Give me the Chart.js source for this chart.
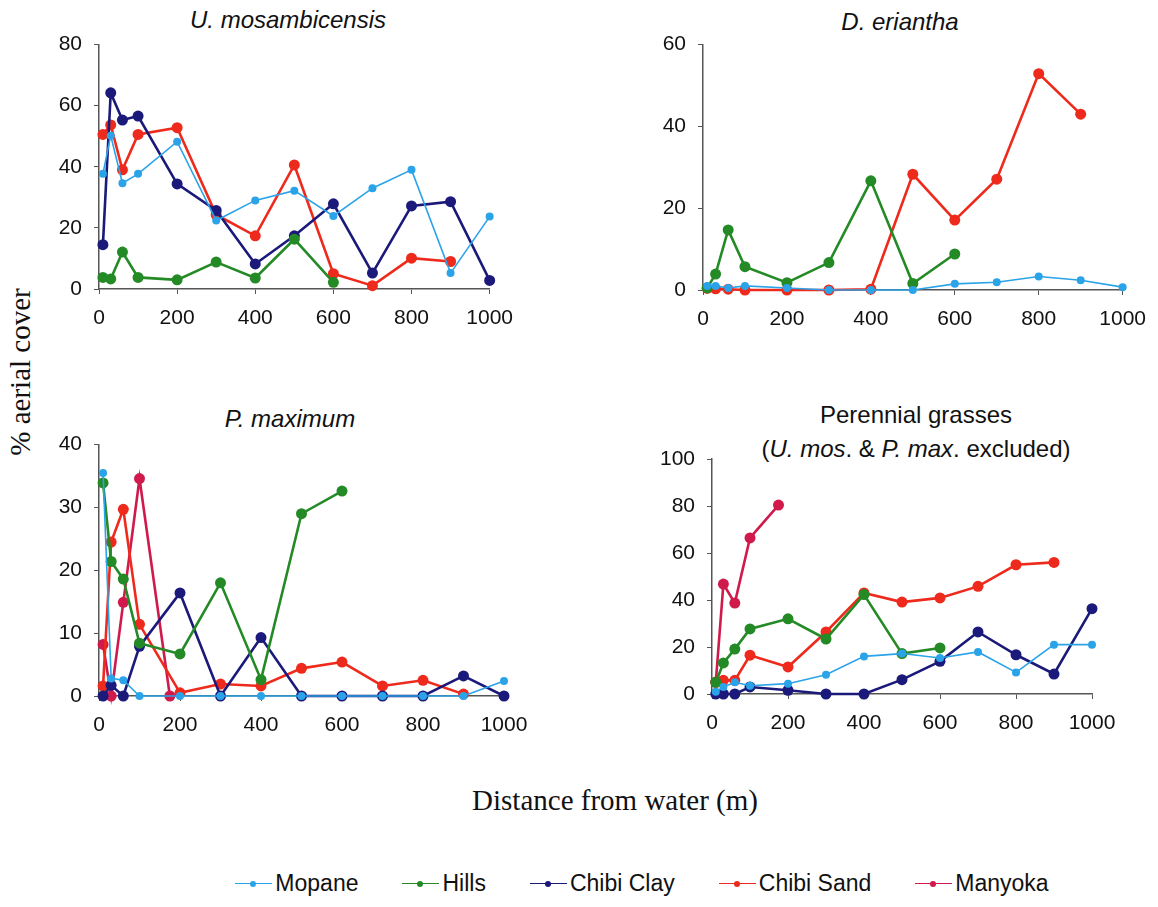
<!DOCTYPE html>
<html>
<head>
<meta charset="utf-8">
<script src="https://cdn.jsdelivr.net/npm/chart.js@4.4.1/dist/chart.umd.min.js"></script>
<style>
  body { margin: 0; background: #fff; width: 1158px; height: 907px; position: relative; overflow: hidden;
         font-family: 'Liberation Sans', Arial, sans-serif; color: #111; }
  .box { position: absolute; }
  .ttl { position: absolute; font-size: 24px; font-style: italic; text-align: center; white-space: nowrap;
         transform: translate(-50%, -50%); }
  .ttl.up { font-style: normal; }
  .axis-title { position: absolute; font-family: 'Liberation Serif', 'Times New Roman', serif; font-size: 29px;
                white-space: nowrap; transform: translate(-50%, -50%); }
  #legend { position: absolute; left: 0; width: 1158px; top: 870px; display: flex; justify-content: center;
            padding-left: 126px; box-sizing: border-box; font-size: 23px; }
  #legend .item { display: flex; align-items: center; margin: 0 22px; }
  #legend .mark { position: relative; width: 37px; height: 26px; margin-right: 3px; }
  #legend .mark i { position: absolute; left: 0; right: 0; top: 12px; height: 1.5px; }
  #legend .mark b { position: absolute; left: 15px; top: 10px; width: 6px; height: 6px; border-radius: 50%; }
</style>
</head>
<body>

<div class="ttl" style="left:288px;top:20px">U. mosambicensis</div>
<div class="ttl" style="left:900px;top:22px">D. eriantha</div>
<div class="ttl" style="left:290px;top:419px">P. maximum</div>
<div class="ttl up" style="left:916px;top:415px">Perennial grasses</div>
<div class="ttl up" style="left:916px;top:449px">(<i>U. mos</i>. &amp; <i>P. max</i>. excluded)</div>

<div class="axis-title" style="left:20px;top:372px;transform:translate(-50%,-50%) rotate(-90deg)">% aerial cover</div>
<div class="axis-title" style="left:615px;top:800px">Distance from water (m)</div>

<div class="box" style="left:0;top:20px"><canvas id="c1" width="525" height="320"></canvas></div>
<div class="box" style="left:600px;top:20px"><canvas id="c2" width="558" height="320"></canvas></div>
<div class="box" style="left:0;top:420px"><canvas id="c3" width="540" height="320"></canvas></div>
<div class="box" style="left:600px;top:420px"><canvas id="c4" width="540" height="320"></canvas></div>

<div id="legend"></div>

<script>
const distances = [10, 30, 60, 100, 200, 300, 400, 500, 600, 700, 800, 900, 1000];
const manyokaDistances = [10, 30, 60, 100, 175];
const seriesNames = ['Mopane', 'Hills', 'Chibi Clay', 'Chibi Sand', 'Manyoka'];
const seriesColors = ['#2ba3e8', '#238a26', '#1b1a7a', '#ee2a1c', '#d01a4c'];

// U. mosambicensis
const uMosMopane = [37.7, 50.2, 34.6, 37.7, 48.2, 22.4, 29, 32.2, 23.9, 33, 39, 5.2, 23.7];
const uMosHills  = [3.8, 3.3, 12.1, 3.8, 3.0, 8.8, 3.6, 16.3, 2.2];
const uMosClay   = [14.5, 64.2, 55.3, 56.6, 34.4, 25.7, 8.2, 17.4, 27.9, 5.2, 27.2, 28.6, 2.8];
const uMosSand   = [50.6, 53.7, 39, 50.6, 52.8, 24.3, 17.4, 40.6, 5, 1.1, 10.1, 9];

// D. eriantha
const dEriMopane = [1, 1, 0.5, 1, 0.5, 0, 0, 0, 1.5, 1.9, 3.3, 2.4, 0.7];
const dEriHills  = [0.5, 3.9, 14.7, 5.7, 1.8, 6.7, 26.7, 1.6, 8.8];
const dEriSand   = [0.4, 0.3, 0.2, 0, 0, 0, 0.2, 28.3, 17.1, 27.1, 52.9, 43];

// P. maximum
const pMaxMopane  = [35.5, 2.8, 2.5, 0, 0, 0, 0, 0, 0, 0, 0, 0, 2.4];
const pMaxHills   = [33.9, 21.4, 18.6, 8.4, 6.7, 18, 2.6, 29, 32.6];
const pMaxClay    = [0, 1.7, 0, 7.9, 16.4, 0, 9.3, 0, 0, 0, 0, 3.2, 0];
const pMaxSand    = [1.6, 24.5, 29.7, 11.4, 0.5, 1.9, 1.6, 4.4, 5.4, 1.6, 2.5, 0.3];
const pMaxManyoka = [8.2, 0, 14.9, 34.6, 0];

// other perennial grasses
const perMopane  = [1, 3, 5, 3.5, 4.4, 8.2, 16, 17.2, 15.3, 17.9, 9.2, 21, 21];
const perHills   = [5, 13.2, 19.1, 27.7, 32, 23.4, 42.3, 17.2, 19.6];
const perClay    = [0, 0, 0, 3, 1.6, 0, 0, 6.1, 13.9, 26.4, 16.7, 8.5, 36.3];
const perSand    = [5.1, 5.8, 5.8, 16.5, 11.5, 26.4, 43, 39.1, 40.9, 45.8, 55, 56];
const perManyoka = [5, 46.8, 38.7, 66.4, 80.4];

// ───────────────────────────────────────────────────────────────────────────

const TICK_FONT = { family: "'Liberation Sans', Arial, sans-serif", size: 21 };
const AXIS_COLOR = '#555';

function series(idx, values, xs) {
  xs = xs || distances;
  const thin = idx === 0;
  return {
    label: seriesNames[idx],
    data: values.map((v, i) => ({ x: xs[i], y: v })),
    borderColor: seriesColors[idx],
    backgroundColor: seriesColors[idx],
    pointBackgroundColor: seriesColors[idx],
    pointBorderWidth: 0,
    borderWidth: thin ? 1.6 : 2.6,
    pointRadius: thin ? 4 : 5.5,
    tension: 0,
    clip: false,
  };
}

// box = canvas rect on the page, area = wanted plot rect on the page
function panel(id, box, area, yMax, yStep, datasets) {
  const yWidth = area.left - box.left;
  const xHeight = box.top + box.height - area.bottom;
  new Chart(document.getElementById(id), {
    type: 'line',
    data: { datasets },
    options: {
      responsive: false,
      animation: false,
      layout: { padding: { top: area.top - box.top, right: box.left + box.width - area.right, left: 0, bottom: 0 } },
      plugins: { legend: { display: false }, tooltip: { enabled: false } },
      scales: {
        x: {
          type: 'linear', min: 0, max: 1000,
          ticks: { stepSize: 200, color: '#111', font: TICK_FONT, padding: 12, maxRotation: 0, callback: v => String(v) },
          grid: { drawOnChartArea: false, drawTicks: true, tickLength: 5, color: AXIS_COLOR },
          border: { display: true, color: AXIS_COLOR, width: 1.5 },
          afterFit: s => { s.height = xHeight; },
        },
        y: {
          min: 0, max: yMax,
          ticks: { stepSize: yStep, color: '#111', font: TICK_FONT, padding: 12, callback: v => String(v) },
          grid: { drawOnChartArea: false, drawTicks: true, tickLength: 5, color: AXIS_COLOR },
          border: { display: true, color: AXIS_COLOR, width: 1.5 },
          afterFit: s => { s.width = yWidth; },
        },
      },
    },
  });
}

panel('c1', { left: 0, top: 20, width: 525, height: 320 }, { left: 99, right: 492, top: 44, bottom: 289 }, 80, 20, [
  series(0, uMosMopane), series(1, uMosHills), series(2, uMosClay), series(3, uMosSand),
]);

panel('c2', { left: 600, top: 20, width: 558, height: 320 }, { left: 703, right: 1124, top: 44, bottom: 290 }, 60, 20, [
  series(0, dEriMopane), series(1, dEriHills), series(3, dEriSand),
]);

panel('c3', { left: 0, top: 420, width: 540, height: 320 }, { left: 99, right: 504, top: 444, bottom: 696 }, 40, 10, [
  series(0, pMaxMopane), series(1, pMaxHills), series(2, pMaxClay), series(3, pMaxSand),
  series(4, pMaxManyoka, manyokaDistances),
]);

panel('c4', { left: 600, top: 420, width: 540, height: 320 }, { left: 712, right: 1092, top: 459, bottom: 694 }, 100, 20, [
  series(0, perMopane), series(1, perHills), series(2, perClay), series(3, perSand),
  series(4, perManyoka, manyokaDistances),
]);

// shared legend
const legend = document.getElementById('legend');
seriesNames.forEach((name, i) => {
  const item = document.createElement('div');
  item.className = 'item';
  item.innerHTML = `<span class="mark"><i style="background:${seriesColors[i]}"></i><b style="background:${seriesColors[i]}"></b></span>${name}`;
  legend.appendChild(item);
});
</script>
</body>
</html>
